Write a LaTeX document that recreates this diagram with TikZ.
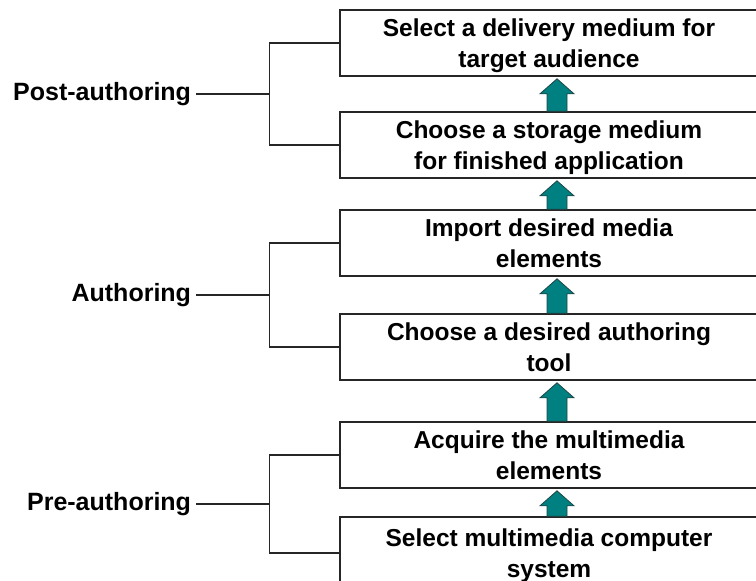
\documentclass[tikz,border=0pt]{standalone}
\usepackage{fontspec}
\setmainfont{Liberation Sans}
\usetikzlibrary{calc}

\definecolor{arrowteal}{RGB}{0,128,128}
\definecolor{arrowedge}{RGB}{30,70,70}

\tikzset{
    stage/.style={draw=black!85, line width=1.6pt, minimum width=418pt,
        minimum height=66pt, align=center, inner sep=0pt, text depth=0pt,
        font=\bfseries\fontsize{24.5}{30.5}\selectfont},
    phase/.style={anchor=east, inner xsep=5pt, inner ysep=0pt,
        font=\bfseries\fontsize{25}{30}\selectfont},
    bracket/.style={line width=1.3pt, black!85},
    uparrow/.style={fill=arrowteal, draw=arrowedge, line width=0.8pt},
}

\begin{document}
\begin{tikzpicture}[x=1pt, y=-1pt]
    % Page area (pixel coordinates, y downwards)
    \clip (0,0) rectangle (756,581);

    % --- Stages, top to bottom ---
    \node[stage] (b1) at (549,43)  {Select a delivery medium for\\target audience};
    \node[stage] (b2) at (549,145) {Choose a storage medium\\for finished application};
    \node[stage] (b3) at (549,243) {Import desired media\\elements};
    \node[stage] (b4) at (549,347) {Choose a desired authoring\\tool};
    \node[stage] (b5) at (549,455) {Acquire the multimedia\\elements};
    \node[stage, minimum height=72pt] (b6) at (549,553) {Select multimedia computer\\system};

    % --- Block arrows between stages ---
    \foreach \lo/\hi in {b6/b5, b5/b4, b4/b3, b3/b2, b2/b1} {
        \filldraw[uparrow]
            ($(\lo.north)+(-2,0)$)
            -- ($(\hi.south)+(-2,17)$)
            -- ($(\hi.south)+(-9,17)$)
            -- ($(\hi.south)+(8,2)$)
            -- ($(\hi.south)+(25,17)$)
            -- ($(\hi.south)+(18,17)$)
            -- ($(\lo.north)+(18,0)$)
            -- cycle;
    }

    % --- Phase brackets ---
    \coordinate (jpost) at ($(b1.west)!0.5!(b2.west)+(-70,0)$);
    \coordinate (jauth) at ($(b3.west)!0.5!(b4.west)+(-70,0)$);
    \coordinate (jpre)  at ($(b5.west)!0.5!(b6.west)+(-70,0)$);

    \draw[bracket] (b1.west) -- ++(-70,0) |- (b2.west);
    \draw[bracket] (b3.west) -- ++(-70,0) |- (b4.west);
    \draw[bracket] (b5.west) -- ++(-70,0) |- (b6.west);

    \node[phase] (post) at ($(jpost)+(-73,0)$) {Post-authoring};
    \node[phase] (auth) at ($(jauth)+(-73,0)$) {Authoring};
    \node[phase] (pre)  at ($(jpre)+(-73,0)$)  {Pre-authoring};

    \draw[bracket] (post.east) -- (jpost);
    \draw[bracket] (auth.east) -- (jauth);
    \draw[bracket] (pre.east) -- (jpre);
\end{tikzpicture}
\end{document}
